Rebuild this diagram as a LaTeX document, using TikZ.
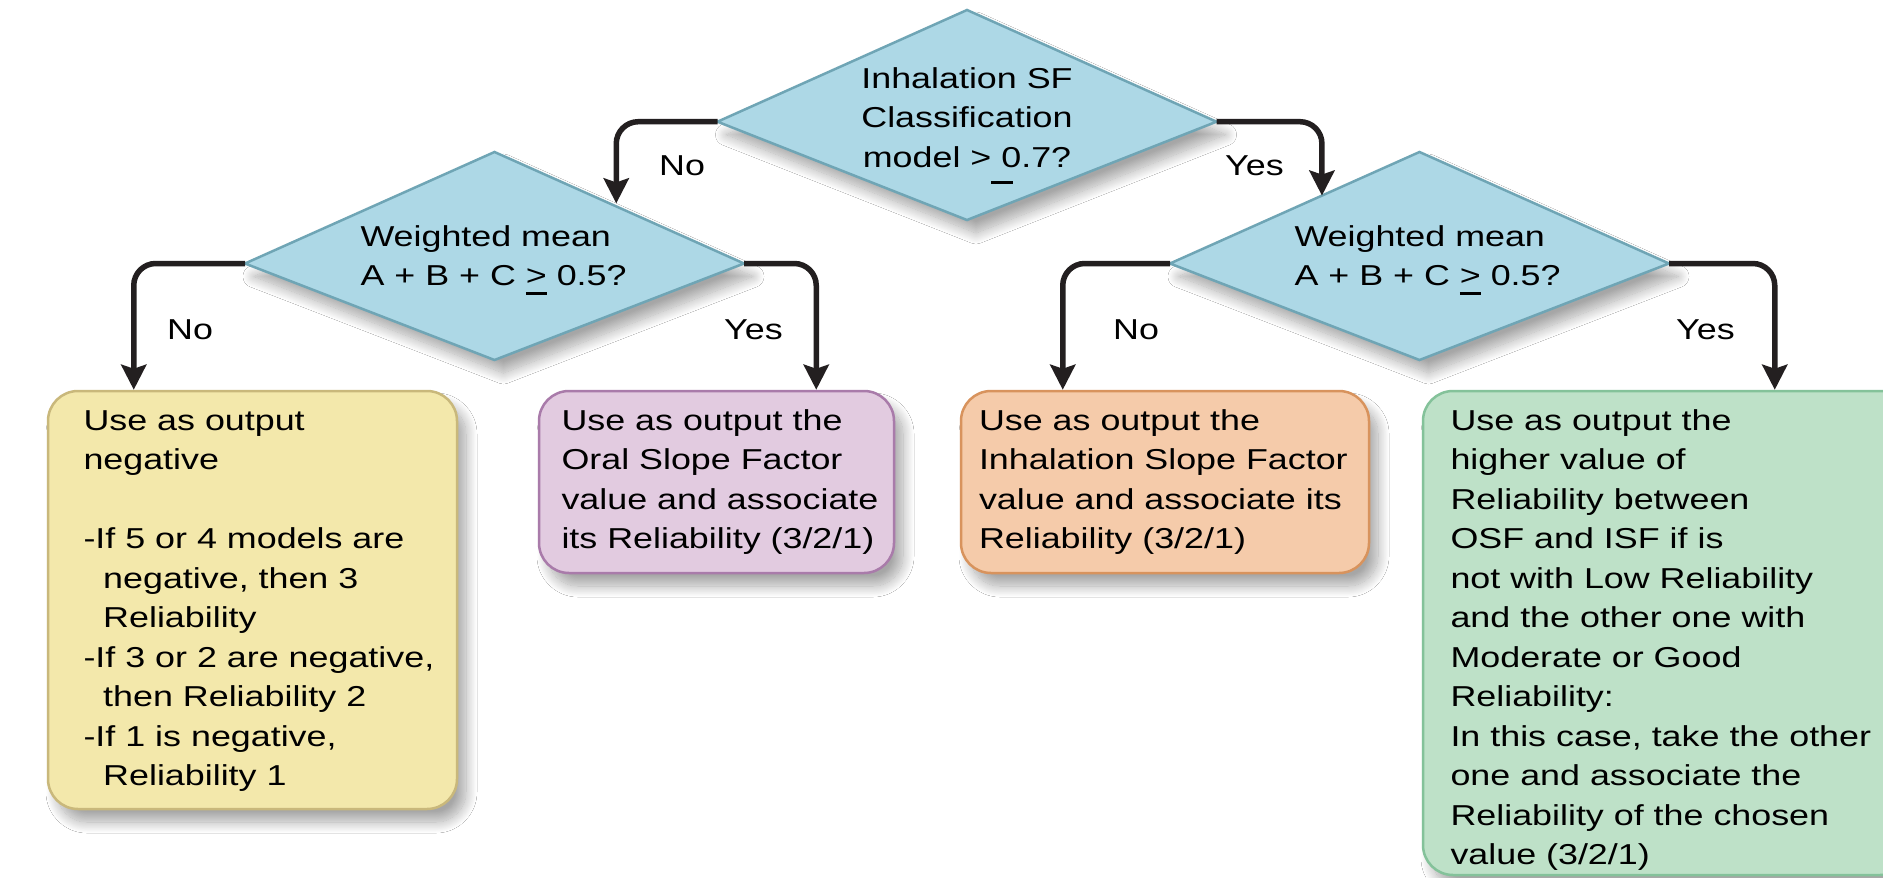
\documentclass[tikz,border=0pt]{standalone}
\usepackage{fontspec}
\setmainfont{Liberation Sans}
\usepackage{graphicx}
\usetikzlibrary{arrows.meta,calc,shadows.blur}

\definecolor{dfill}{RGB}{173,216,230}
\definecolor{dline}{RGB}{111,165,181}
\definecolor{yfill}{RGB}{243,232,171}
\definecolor{yline}{RGB}{201,184,123}
\definecolor{pfill}{RGB}{226,203,224}
\definecolor{pline}{RGB}{169,123,170}
\definecolor{ofill}{RGB}{245,203,170}
\definecolor{oline}{RGB}{216,147,93}
\definecolor{gfill}{RGB}{190,225,200}
\definecolor{gline}{RGB}{132,194,154}
\definecolor{ink}{RGB}{35,31,32}

% wide lettering
\newcommand{\wx}[1]{\scalebox{1.245}[1]{#1}}
% a block of lines whose first baseline sits at (dx,dy) from the node centre
\newcommand{\textblock}[4]{\smash{\makebox[0pt][#3]{\hspace*{#1}\raisebox{#2}{\wx{\begin{tabular}[t]{@{}#3@{}}#4\end{tabular}}}}}}
% "greater or equal" written as an underlined ">"
\newcommand{\geu}{\rlap{\rule[-9.5pt]{0.584em}{3pt}}>}
% loose underline bar
\newcommand{\ulbar}{\rlap{\rule[-16.5pt]{0.6em}{3pt}}}
\newcommand{\ind}{\hspace*{0.55em}}
% decision kite: name, centre x, centre y, rise of the top vertex, drop of the bottom vertex
\newcommand{\decisionkite}[5]{%
  \coordinate (#1) at (#2,#3);
  \coordinate (#1-w) at (#2-249.5,#3);
  \coordinate (#1-e) at (#2+249.5,#3);
  \coordinate (#1-n) at (#2,#3-#4);
  \coordinate (#1-s) at (#2,#3+#5);
  \filldraw[decision] (#1-w) -- (#1-n) -- (#1-e) -- (#1-s) -- cycle;
}

\tikzset{
  every node/.style={font=\fontsize{28.8pt}{39.5pt}\selectfont, text=black},
  softshadow/.style={blur shadow={shadow xshift=9pt, shadow yshift=-13pt, shadow blur radius=11pt, shadow blur steps=18, shadow opacity=35}},
  decision/.style={draw=dline, fill=dfill, line width=2.5pt, line join=miter, softshadow},
  dtext/.style={inner sep=0pt},
  outbox/.style={rectangle, line width=2.5pt, rounded corners=30pt, inner sep=0pt, softshadow},
  conn/.style={draw=ink, line width=5.5pt, rounded corners=22pt,
    -{Stealth[length=25pt, width=25pt, inset=4pt]}},
  lbl/.style={inner sep=0pt, anchor=base west},
}

\begin{document}
\begin{tikzpicture}[x=1pt, y=-1pt]
\useasboundingbox (0,0) rectangle (1883,878);
\clip (0,0) rectangle (1883,878);
\fill[white] (0,0) rectangle (1883,878);

% output boxes
\node[outbox, fill=yfill, draw=yline, minimum width=409pt, minimum height=418pt] (yel) at (252.5,600)
  {\textblock{-169pt}{170pt}{l}{Use as output\\negative\\ \\-If 5 or 4 models are\\\ind negative, then 3\\\ind Reliability\\-If 3 or 2 are negative,\\\ind then Reliability 2\\-If 1 is negative,\\\ind Reliability 1}};
\node[outbox, fill=pfill, draw=pline, minimum width=355pt, minimum height=182pt] (pur) at (716.5,482)
  {\textblock{-155pt}{52pt}{l}{Use as output the\\Oral Slope Factor\\value and associate\\its Reliability (3/2/1)}};
\node[outbox, fill=ofill, draw=oline, minimum width=408pt, minimum height=182pt] (ora) at (1165,482)
  {\textblock{-186pt}{52pt}{l}{Use as output the\\Inhalation Slope Factor\\value and associate its\\Reliability (3/2/1)}};
\node[outbox, fill=gfill, draw=gline, minimum width=487pt, minimum height=484pt] (gre) at (1666.5,633)
  {\textblock{-216pt}{203pt}{l}{Use as output the\\higher value of\\Reliability between\\OSF and ISF if is\\not with Low Reliability\\and the other one with\\Moderate or Good\\Reliability:\\In this case, take the other\\one and associate the\\Reliability of the chosen\\value (3/2/1)}};

% decisions
\decisionkite{d0}{967}{121.7}{111.7}{98.3}
\decisionkite{d1}{494.5}{263.5}{111.5}{96.5}
\decisionkite{d2}{1419.5}{263.5}{111.5}{96.5}
\node[dtext] (d0t) at (d0)
  {\textblock{0pt}{33.7pt}{c}{Inhalation SF\\Classification\\model >\ulbar{} 0.7?}};
\node[dtext] (d1t) at (d1)
  {\textblock{-134pt}{17.5pt}{l}{Weighted mean\\A + B + C \geu{} 0.5?}};
\node[dtext] (d2t) at (d2)
  {\textblock{-125pt}{17.5pt}{l}{Weighted mean\\A + B + C \geu{} 0.5?}};

% connectors
\draw[conn, shorten >=3pt] (d0-w) -| ($(d1-n)!0.488!(d1-e)$);
\draw[conn] (d0-e) -| ($(d2-n)!0.391!(d2-w)$);
\draw[conn] (d1-w) -| ($(yel.north west)+(87,0)$);
\draw[conn] (d1-e) -| ($(pur.north east)+(-79,0)$);
\draw[conn] (d2-w) -| ($(ora.north west)+(103,0)$);
\draw[conn] (d2-e) -| ($(gre.north west)+(353,0)$);

% branch labels
\node[lbl] (no0) at (659,175) {\wx{No}};
\node[lbl] (yes0) at (1225,175) {\wx{Yes}};
\node[lbl] (no1) at (167,339) {\wx{No}};
\node[lbl] (yes1) at (724,339) {\wx{Yes}};
\node[lbl] (no2) at (1113,339) {\wx{No}};
\node[lbl] (yes2) at (1676,339) {\wx{Yes}};
\end{tikzpicture}
\end{document}
